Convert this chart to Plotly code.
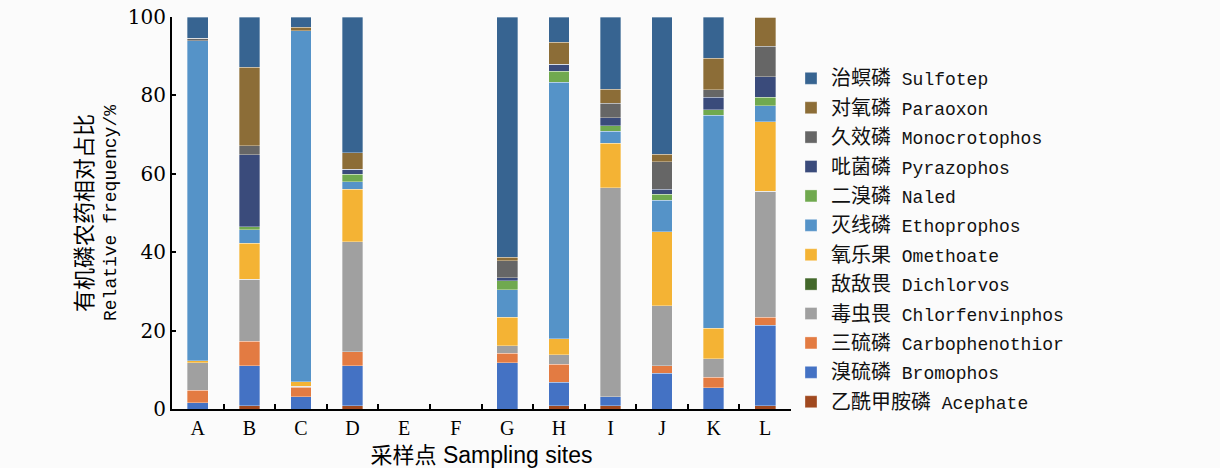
import plotly.graph_objects as go

sites = ["A", "B", "C", "D", "E", "F", "G", "H", "I", "J", "K", "L"]

# Relative frequency (%) of each organophosphorus pesticide per sampling site
acephate        = [0.0, 0.8, 0.0, 0.8, 0, 0, 0.0, 0.8, 0.8, 0.0, 0.0, 0.8]
bromophos       = [1.6, 10.2, 3.1, 10.2, 0, 0, 11.8, 6.0, 2.3, 9.1, 5.4, 20.6]
carbophenothion = [3.2, 6.3, 2.4, 3.6, 0, 0, 2.4, 4.6, 0.0, 1.9, 2.7, 2.0]
chlorfenvinphos = [7.0, 15.8, 0.3, 28.1, 0, 0, 1.9, 2.4, 53.4, 15.3, 4.7, 32.2]
dichlorvos      = [0.0, 0.0, 0.0, 0.0, 0, 0, 0.0, 0.0, 0.0, 0.0, 0.0, 0.0]
omethoate       = [0.5, 9.2, 1.1, 13.4, 0, 0, 7.3, 4.1, 11.3, 18.9, 7.8, 17.7]
ethoprophos     = [81.7, 3.4, 89.6, 1.9, 0, 0, 7.0, 65.4, 3.1, 8.1, 54.4, 4.1]
naled           = [0.0, 0.8, 0.0, 1.9, 0, 0, 2.3, 2.8, 1.4, 1.5, 1.4, 2.1]
pyrazophos      = [0.0, 18.3, 0.0, 1.3, 0, 0, 0.8, 1.8, 2.0, 1.3, 3.1, 5.3]
monocrotophos   = [0.6, 2.3, 0.0, 0.0, 0, 0, 4.3, 0.0, 3.7, 7.0, 1.9, 7.8]
paraoxon        = [0.0, 20.1, 0.9, 4.2, 0, 0, 0.9, 5.6, 3.6, 1.9, 8.1, 7.4]
sulfotep        = [5.4, 12.8, 2.6, 34.6, 0, 0, 61.3, 6.5, 18.4, 35.0, 10.5, 0.0]

series = [
    ("乙酰甲胺磷", "Acephate", acephate, "#a0491f"),
    ("溴硫磷", "Bromophos", bromophos, "#4472c4"),
    ("三硫磷", "Carbophenothior", carbophenothion, "#e37b42"),
    ("毒虫畏", "Chlorfenvinphos", chlorfenvinphos, "#a0a0a0"),
    ("敌敌畏", "Dichlorvos", dichlorvos, "#43682b"),
    ("氧乐果", "Omethoate", omethoate, "#f4b334"),
    ("灭线磷", "Ethoprophos", ethoprophos, "#5593c8"),
    ("二溴磷", "Naled", naled, "#70a94f"),
    ("吡菌磷", "Pyrazophos", pyrazophos, "#3a4b7b"),
    ("久效磷", "Monocrotophos", monocrotophos, "#666666"),
    ("对氧磷", "Paraoxon", paraoxon, "#8c6d37"),
    ("治螟磷", "Sulfotep", sulfotep, "#376491"),
]

fig = go.Figure()
n = len(series)
for i, (zh, en, vals, color) in enumerate(series):
    fig.add_trace(go.Bar(
        x=sites, y=vals,
        name=f'<span style="font-size:20px">{zh}</span> {en}',
        legendgroup=en,
        legendrank=n - i,  # top of the stack listed first
        marker=dict(color=color, line=dict(color="rgba(255,255,255,0.55)", width=0.6)),
    ))

fig.update_layout(
    barmode="stack",
    bargap=0.6,
    width=1220, height=468,
    margin=dict(l=172, r=429, t=17, b=59),
    paper_bgcolor="#fbfbfb",
    plot_bgcolor="#fbfbfb",
    showlegend=True,
    legend=dict(
        x=1.0, y=0.89, xanchor="left", yanchor="top",
        traceorder="grouped",
        tracegroupgap=3,
        font=dict(family="Liberation Mono, Noto Sans CJK SC", size=18, color="#111"),
        bgcolor="rgba(0,0,0,0)",
        itemwidth=30,
    ),
)

fig.update_xaxes(
    automargin=False,
    showline=True, linecolor="black", linewidth=2,
    ticks="inside", tickson="boundaries", ticklen=5, tickwidth=2, tickcolor="black",
    tickfont=dict(family="Liberation Serif", size=20, color="black"),
    title=dict(text='<span style="font-size:22px">采样点</span> Sampling sites',
               font=dict(family="Liberation Sans, Noto Sans CJK SC", size=23, color="black"),
               standoff=10),
    showgrid=False, zeroline=False,
)

fig.update_yaxes(
    automargin=False,
    range=[0, 100], dtick=20,
    showline=True, linecolor="black", linewidth=2,
    ticks="inside", ticklen=4, tickwidth=1.5, tickcolor="black",
    tickfont=dict(family="DejaVu Serif", size=20, color="black"),
    title=dict(text='<span style="font-size:22px">有机磷农药相对占比</span><br>Relative frequency/%',
               font=dict(family="Liberation Mono, Noto Sans CJK SC", size=18, color="black"),
               standoff=7),
    showgrid=False, zeroline=False,
)

fig.write_html("out.html")
